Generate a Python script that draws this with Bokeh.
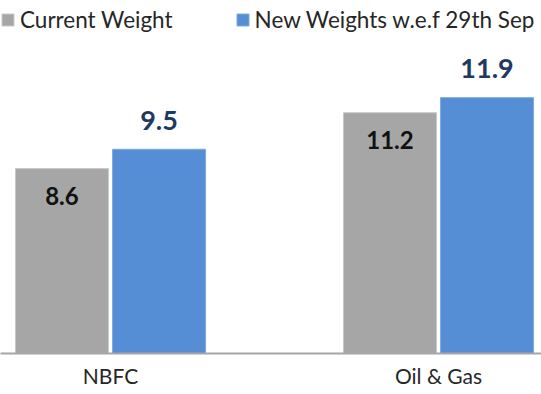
from bokeh.plotting import figure
from bokeh.models import Range1d, FixedTicker, Legend, LegendItem, ColumnDataSource
from bokeh.transform import dodge
from bokeh.embed import file_html
from bokeh.resources import INLINE
from bokeh.core.properties import value

categories = ["NBFC", "Oil & Gas"]
current_weight = [8.6, 11.2]
new_weight = [9.5, 11.9]
series_names = ["Current Weight", "New Weights w.e.f 29th Sep"]

FONT = "Lato"
GRAY = "#a6a6a6"
BLUE = "#558ed5"

xs = [i + 1 for i in range(len(categories))]
src = ColumnDataSource(dict(
    x=xs,
    cur=current_weight,
    new=new_weight,
    cur_lbl=[f"{v}" for v in current_weight],
    new_lbl=[f"{v}" for v in new_weight],
))

p = figure(frame_width=541, frame_height=353, output_backend="svg", toolbar_location=None,
           x_range=Range1d(0.6646, 2.314), y_range=Range1d(0, 16.42),
           min_border_left=0, min_border_right=0, min_border_top=0, min_border_bottom=41)

off = 0.148
bw = 0.2835
r1 = p.vbar(x=dodge("x", -off), top="cur", width=bw, source=src,
            fill_color=GRAY, line_color="#c8c8c8", line_width=1)
r2 = p.vbar(x=dodge("x", off), top="new", width=bw, source=src,
            fill_color=BLUE, line_color="#7fa9df", line_width=1)

p.text(x=dodge("x", -off), y="cur", text="cur_lbl", source=src, y_offset=27,
       text_align="center", text_baseline="middle", text_font=value(FONT),
       text_font_style="bold", text_font_size="24px", text_color="#111111")
p.text(x=dodge("x", off), y="new", text="new_lbl", source=src, y_offset=-29,
       text_align="center", text_baseline="middle", text_font=value(FONT),
       text_font_style="bold", text_font_size="27px", text_color="#1f3a60")

legend = Legend(items=[LegendItem(label=series_names[0], renderers=[r1]),
                       LegendItem(label=series_names[1], renderers=[r2])],
                orientation="horizontal", location="top_left", margin=0, padding=10,
                spacing=62, glyph_width=15, glyph_height=15, label_standoff=5,
                label_height=38,
                label_text_font=FONT, label_text_font_size="22.5px",
                label_text_color="#262626", border_line_color=None,
                background_fill_alpha=0)
p.add_layout(legend)

p.xgrid.visible = False
p.ygrid.visible = False
p.yaxis.visible = False
p.outline_line_color = None
ax = p.xaxis[0]
ax.ticker = FixedTicker(ticks=xs)
ax.major_label_overrides = {x: c for x, c in zip(xs, categories)}
ax.axis_line_color = "#a6a6a6"
ax.axis_line_width = 2
ax.major_tick_line_color = None
ax.minor_tick_line_color = None
ax.major_tick_out = 0
ax.major_tick_in = 0
ax.major_label_standoff = 9
ax.major_label_text_font = FONT
ax.major_label_text_font_size = "21px"
ax.major_label_text_color = "#262626"

open("out.html", "w").write(file_html(p, INLINE))
